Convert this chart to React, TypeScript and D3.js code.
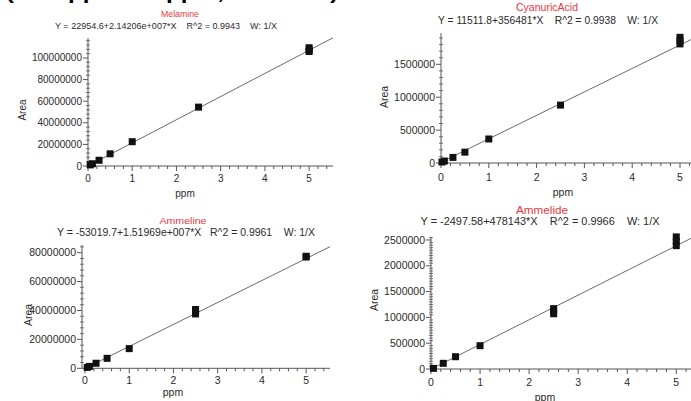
import React from "react";
import * as d3 from "d3";

// ---------- DATA ----------
const compounds = ["Melamine", "CyanuricAcid", "Ammeline", "Ammelide"];
const equations = [
  "Y = 22954.6+2.14206e+007*X    R^2 = 0.9943    W: 1/X",
  "Y = 11511.8+356481*X    R^2 = 0.9938    W: 1/X",
  "Y = -53019.7+1.51969e+007*X   R^2 = 0.9961    W: 1/X",
  "Y = -2497.58+478143*X    R^2 = 0.9966    W: 1/X",
];
const intercepts = [22954.6, 11511.8, -53019.7, -2497.58];
const slopes = [2.14206e7, 356481, 1.51969e7, 478143];

const melamineConc = [0.05, 0.1, 0.25, 0.5, 1, 2.5, 5, 5, 5];
const melamineArea = [1.0e6, 2.1e6, 5.3e6, 11.3e6, 22.5e6, 54.5e6, 106e6, 107.5e6, 109.5e6];

const cyanuricConc = [0.02, 0.07, 0.25, 0.5, 1, 2.5, 5, 5, 5];
const cyanuricArea = [15000, 30000, 85000, 165000, 365000, 880000, 1.81e6, 1.86e6, 1.91e6];

const ammelineConc = [0.05, 0.1, 0.25, 0.5, 1, 2.5, 2.5, 2.5, 5, 5];
const ammelineArea = [0.6e6, 1.3e6, 3.5e6, 6.9e6, 13.6e6, 37.6e6, 39e6, 40.7e6, 77e6, 77.5e6];

const ammelideConc = [0.05, 0.25, 0.5, 1, 2.5, 2.5, 2.5, 5, 5, 5];
const ammelideArea = [12000, 110000, 238000, 452000, 1.07e6, 1.12e6, 1.17e6, 2.39e6, 2.47e6, 2.56e6];

const xTickValues = [0, 1, 2, 3, 4, 5];
const yTickSteps = [20000000, 500000, 20000000, 500000];
const yMinorSteps = [4000000, 100000, 4000000, 50000];
const xAxisTitle = "ppm";
const yAxisTitle = "Area";
const headerText = "(0.05 ppm – 5 ppm, R² ≥ 0.99)";

const concs = [melamineConc, cyanuricConc, ammelineConc, ammelideConc];
const areas = [melamineArea, cyanuricArea, ammelineArea, ammelideArea];

// ---------- LAYOUT (positions/styles) ----------
type Layout = {
  xPx: [number, number]; xDom: [number, number]; axisLeft: number;
  yPx: [number, number]; yDom: [number, number];
  title: [number, number]; titleW: number;
  eq: [number, number]; eqW: number;
  xLabY: number; ppm: [number, number]; area: [number, number];
  fs: number; titleFs: number; eqFs: number;
};

const layouts: Layout[] = [
  { xPx: [88, 333], xDom: [0, 5.54], axisLeft: 88, yPx: [166, 38], yDom: [0, 118.5e6],
    title: [180, 14], titleW: 38, eq: [166, 26], eqW: 222, xLabY: 178, ppm: [185, 193], area: [22, 110],
    fs: 10, titleFs: 8.5, eqFs: 8.5 },
  { xPx: [441, 691], xDom: [0, 5.23], axisLeft: 441, yPx: [163, 33], yDom: [0, 1.976e6],
    title: [547, 7], titleW: 62, eq: [548, 20.7], eqW: 220, xLabY: 177, ppm: [563, 192], area: [384, 97],
    fs: 10.5, titleFs: 10.5, eqFs: 10.5 },
  { xPx: [85, 330], xDom: [0, 5.54], axisLeft: 82, yPx: [368.3, 245], yDom: [0, 85.3e6],
    title: [183, 221], titleW: 47, eq: [186, 232], eqW: 258, xLabY: 380, ppm: [173, 392], area: [28, 315],
    fs: 10.5, titleFs: 9.5, eqFs: 10.5 },
  { xPx: [431, 691], xDom: [0, 5.3], axisLeft: 431, yPx: [369, 237], yDom: [0, 2.558e6],
    title: [542, 210], titleW: 52, eq: [540, 221.7], eqW: 239, xLabY: 382, ppm: [545, 397], area: [374, 300],
    fs: 10.5, titleFs: 10.5, eqFs: 10.5 },
];

const FONT = "'Liberation Sans', Arial, sans-serif";
const TEXT = "#2a2a2a";
const AXIS = "#555";
const fmt = d3.format("d");

function Panel({ i }: { i: number }) {
  const L = layouts[i];
  const x = d3.scaleLinear().domain(L.xDom).range(L.xPx);
  const y = d3.scaleLinear().domain(L.yDom).range(L.yPx);
  const xMinor = d3.range(0, L.xDom[1] + 1e-9, 0.2).filter((v) => Math.abs(v - Math.round(v)) > 1e-6);
  const yMajor = d3.range(0, L.yDom[1] + 1, yTickSteps[i]);
  const yMinor = d3.range(0, L.yDom[1] + 1, yMinorSteps[i]).filter(
    (v) => Math.abs(v / yTickSteps[i] - Math.round(v / yTickSteps[i])) > 1e-6
  );
  const line = d3.line<number>().x((v) => x(v)).y((v) => y(intercepts[i] + slopes[i] * v));
  const x0 = L.axisLeft;
  const y0 = L.yPx[0];
  const xRight = L.xPx[1];
  const sq = 7;
  return (
    <g>
      <text x={L.title[0]} y={L.title[1]} dy="0.35em" textAnchor="middle" fill="#e8383d"
        fontSize={L.titleFs} fontFamily={FONT} textLength={L.titleW} lengthAdjust="spacingAndGlyphs">
        {compounds[i]}
      </text>
      <text x={L.eq[0]} y={L.eq[1]} dy="0.35em" textAnchor="middle" fill={TEXT}
        fontSize={L.eqFs} fontFamily={FONT} textLength={L.eqW} lengthAdjust="spacingAndGlyphs"
        style={{ whiteSpace: "pre" }}>
        {equations[i]}
      </text>
      {/* axes */}
      <line x1={x0} x2={xRight} y1={y0} y2={y0} stroke={AXIS} strokeWidth={1} />
      <line x1={x0} x2={x0} y1={y0} y2={L.yPx[1]} stroke={AXIS} strokeWidth={1} />
      {xTickValues.filter((v) => x(v) <= xRight).map((v) => (
        <g key={"xt" + v}>
          <line x1={x(v)} x2={x(v)} y1={y0} y2={y0 + 5} stroke={AXIS} />
          <text x={x(v)} y={L.xLabY} dy="0.35em" textAnchor="middle" fill={TEXT} fontSize={L.fs} fontFamily={FONT}>
            {v}
          </text>
        </g>
      ))}
      {xMinor.filter((v) => x(v) <= xRight).map((v) => (
        <line key={"xm" + v} x1={x(v)} x2={x(v)} y1={y0} y2={y0 + 3} stroke={AXIS} />
      ))}
      {yMajor.map((v) => (
        <g key={"yt" + v}>
          <line x1={x0 - 5} x2={x0} y1={y(v)} y2={y(v)} stroke={AXIS} />
          <text x={x0 - 6} y={y(v)} dy="0.35em" textAnchor="end" fill={TEXT} fontSize={L.fs} fontFamily={FONT}>
            {fmt(v)}
          </text>
        </g>
      ))}
      {yMinor.map((v) => (
        <line key={"ym" + v} x1={x0 - 2} x2={x0 + 2} y1={y(v)} y2={y(v)} stroke={AXIS} strokeWidth={0.8} />
      ))}
      <text x={L.ppm[0]} y={L.ppm[1]} dy="0.35em" textAnchor="middle" fill={TEXT} fontSize={L.fs} fontFamily={FONT}>
        {xAxisTitle}
      </text>
      <text transform={`translate(${L.area[0]},${L.area[1]}) rotate(-90)`} dy="0.35em" textAnchor="middle"
        fill={TEXT} fontSize={L.fs} fontFamily={FONT}>
        {yAxisTitle}
      </text>
      {/* regression line */}
      <path d={line([0, L.xDom[1]]) || ""} stroke="#6b6b6b" strokeWidth={1} fill="none" />
      {/* points */}
      {concs[i].map((c, k) => (
        <rect key={"p" + k} x={x(c) - sq / 2} y={y(areas[i][k]) - sq / 2} width={sq} height={sq} fill="#111" />
      ))}
    </g>
  );
}

export default function App() {
  return (
    <svg width={691} height={401} style={{ position: "absolute", left: 0, top: 0, background: "#fff" }}>
      <rect width={691} height={401} fill="#fff" />
      <text x={6} y={-1} fill="#000" fontSize={19} fontWeight="bold" fontFamily={FONT}
        textLength={332} lengthAdjust="spacingAndGlyphs">
        {headerText}
      </text>
      {compounds.map((_, i) => (
        <Panel key={i} i={i} />
      ))}
    </svg>
  );
}
